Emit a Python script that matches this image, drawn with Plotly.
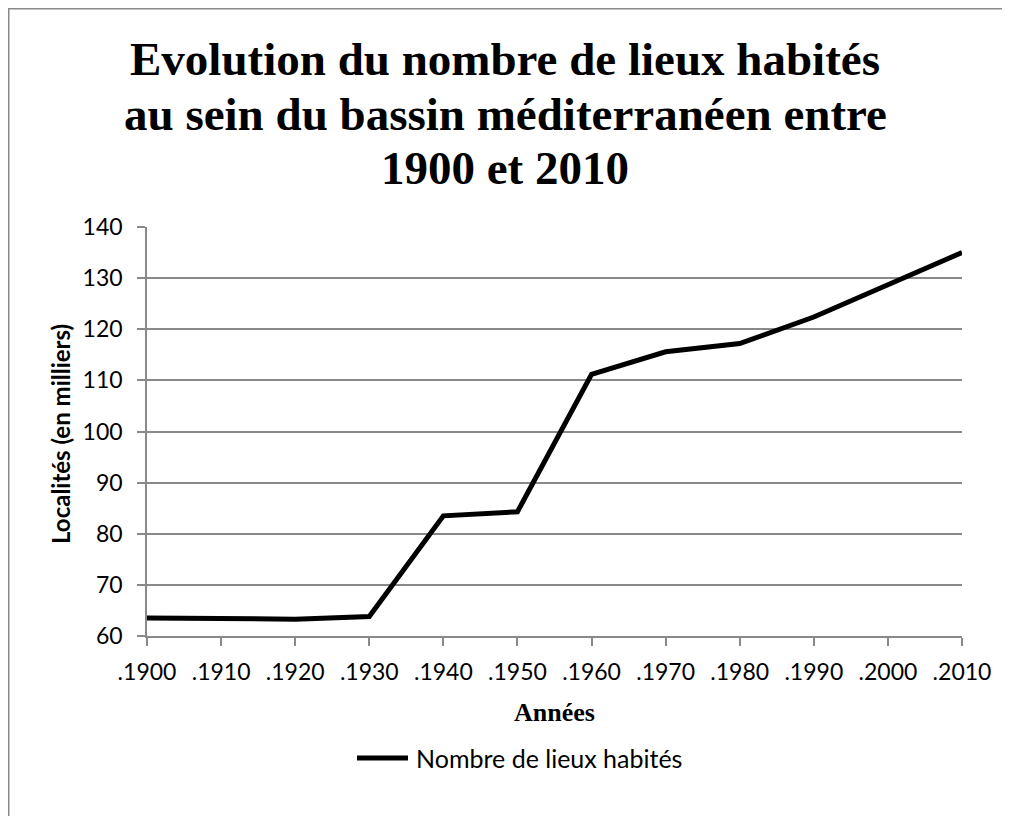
import plotly.graph_objects as go

years = [1900, 1910, 1920, 1930, 1940, 1950, 1960, 1970, 1980, 1990, 2000, 2010]
tick_labels = [".1900", ".1910", ".1920", ".1930", ".1940", ".1950", ".1960", ".1970", ".1980", ".1990", ".2000", ".2010"]
localites = [63.5, 63.5, 63.3, 63.8, 83.5, 84.3, 111.2, 115.6, 117.2, 122.4, 128.7, 135.0]
series_name = "Nombre de lieux habités"
title_lines = ["Evolution du nombre de lieux habités",
               "au sein du bassin méditerranéen entre",
               "1900 et 2010"]
x_title = "Années"
y_title = "Localités (en milliers)"

fig = go.Figure()
fig.add_trace(go.Scatter(
    x=years, y=localites, mode="lines", name=series_name,
    line=dict(color="black", width=5), showlegend=False,
))

W, H = 1010, 816
# plot area in figure pixels (page shows figure offset by 8px)
ml, mr, mt, mb = 139, 56, 219, 188
pw, ph = W - ml - mr, H - mt - mb

def pxx(px):
    return (px - ml) / pw

def pxy(py):
    return (H - mb - py) / ph

grey = "#898989"
annotations = []
for line, yc in zip(title_lines, [51, 106, 160]):
    annotations.append(dict(
        text=line, xref="paper", yref="paper", x=pxx(497), y=pxy(yc),
        xanchor="center", yanchor="middle", showarrow=False,
        font=dict(family="Liberation Serif", size=47, color="black", weight="bold"),
    ))
annotations.append(dict(
    text=x_title, xref="paper", yref="paper", x=pxx(546), y=pxy(704),
    xanchor="center", yanchor="middle", showarrow=False,
    font=dict(family="Liberation Serif", size=26, color="black", weight="bold"),
))
annotations.append(dict(
    text=y_title, xref="paper", yref="paper", x=pxx(52), y=pxy(426),
    xanchor="center", yanchor="middle", showarrow=False, textangle=-90,
    font=dict(family="Lato", size=24, color="black", weight="bold"),
))
# legend entry (line sample + series name)
annotations.append(dict(
    text=series_name, xref="paper", yref="paper", x=pxx(406), y=pxy(750),
    xanchor="left", yanchor="middle", showarrow=False,
    font=dict(family="Lato", size=25, color="black"),
))

fig.update_layout(
    width=W, height=H,
    margin=dict(l=ml, r=mr, t=mt, b=mb, autoexpand=False),
    paper_bgcolor="white", plot_bgcolor="white",
    showlegend=False,
    xaxis=dict(
        range=[1900, 2010], tickvals=years, ticktext=tick_labels,
        tickangle=0, automargin=False,
        showgrid=False, zeroline=False,
        showline=True, linecolor=grey, linewidth=1.5,
        ticks="outside", ticklen=8, tickcolor=grey, tickwidth=1.5,
        ticklabelstandoff=7,
        tickfont=dict(family="Lato", size=23, color="black"),
    ),
    yaxis=dict(
        range=[60, 140], dtick=10, tick0=60, automargin=False,
        showgrid=True, gridcolor=grey, gridwidth=1.5,
        zeroline=False,
        showline=True, linecolor=grey, linewidth=1.5,
        ticks="outside", ticklen=8, tickcolor=grey, tickwidth=1.5,
        ticklabelstandoff=10,
        tickfont=dict(family="Lato", size=23, color="black"),
    ),
    annotations=annotations,
    shapes=[
        dict(
            type="rect", xref="paper", yref="paper", layer="below",
            x0=pxx(0.75), x1=pxx(1030),
            y0=pxy(840), y1=pxy(0.75),
            line=dict(color=grey, width=1.5), fillcolor="rgba(0,0,0,0)",
        ),
        dict(
            type="line", xref="paper", yref="paper",
            x0=pxx(349), x1=pxx(400), y0=pxy(750), y1=pxy(750),
            line=dict(color="black", width=5),
        ),
    ],
)

fig.write_html("out.html")
